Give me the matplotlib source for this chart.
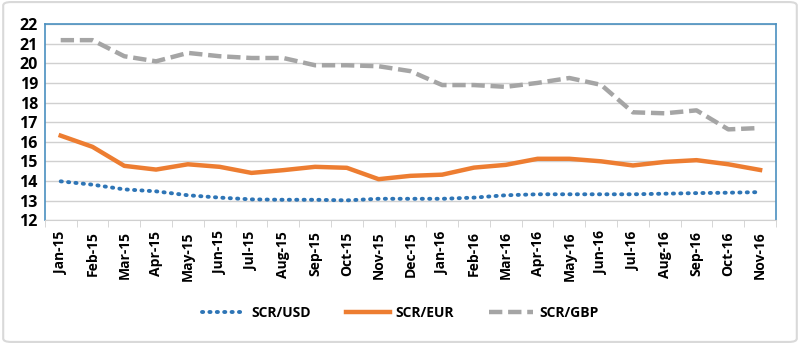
import matplotlib
matplotlib.use("Agg")
import matplotlib.pyplot as plt
from matplotlib.patches import FancyBboxPatch

months = ["Jan-15", "Feb-15", "Mar-15", "Apr-15", "May-15", "Jun-15", "Jul-15",
          "Aug-15", "Sep-15", "Oct-15", "Nov-15", "Dec-15", "Jan-16", "Feb-16",
          "Mar-16", "Apr-16", "May-16", "Jun-16", "Jul-16", "Aug-16", "Sep-16",
          "Oct-16", "Nov-16"]

scr_usd = [13.98, 13.81, 13.57, 13.47, 13.27, 13.15, 13.06, 13.04, 13.04, 13.01,
           13.09, 13.09, 13.09, 13.15, 13.27, 13.32, 13.32, 13.32, 13.32, 13.35,
           13.38, 13.40, 13.43]
scr_eur = [16.31, 15.74, 14.77, 14.58, 14.85, 14.72, 14.41, 14.55, 14.72, 14.67,
           14.09, 14.26, 14.32, 14.68, 14.82, 15.13, 15.13, 15.00, 14.79, 14.97,
           15.06, 14.85, 14.56]
scr_gbp = [21.18, 21.18, 20.36, 20.10, 20.53, 20.36, 20.27, 20.27, 19.90, 19.90,
           19.85, 19.60, 18.89, 18.89, 18.80, 19.00, 19.25, 18.90, 17.50, 17.45,
           17.60, 16.63, 16.70]

plt.rcParams["font.family"] = ["Open Sans", "DejaVu Sans"]

fig = plt.figure(figsize=(8, 3.44), dpi=100)
# light rounded outer border
fig.patches.append(FancyBboxPatch((0.004, 0.006), 0.992, 0.988,
                                  boxstyle="round,pad=0,rounding_size=0.01",
                                  transform=fig.transFigure, fill=False,
                                  edgecolor="#d9d9d9", linewidth=1.5))

ax = fig.add_axes([0.056, 0.36, 0.914, 0.57])
x = range(len(months))

ax.plot(x, scr_usd, color="#2E75B6", linewidth=2.8, linestyle=(0, (0.3, 1.6)),
        dash_capstyle="round", label="SCR/USD")
ax.plot(x, scr_eur, color="#ED7D31", linewidth=3.2, label="SCR/EUR")
ax.plot(x, scr_gbp, color="#A5A5A5", linewidth=3.2, linestyle=(0, (3, 1.3)),
        label="SCR/GBP")

ax.set_xlim(-0.5, len(months) - 0.5)
ax.set_ylim(12, 22)
ax.set_yticks(range(12, 23))
ax.set_xticks(list(x))
ax.set_xticklabels(months, rotation=90, fontsize=10, fontweight="bold")
ax.set_xticks([i + 0.5 for i in range(-1, len(months))], minor=True)
ax.tick_params(axis="x", which="major", length=0, pad=8)
ax.tick_params(axis="x", which="minor", length=5, color="#d0d0d0")
ax.tick_params(axis="y", length=0, labelsize=11.5, pad=5)
for lab in ax.get_yticklabels():
    lab.set_fontweight("bold")

ax.grid(True, axis="y", color="#d0d0d0", linewidth=1)
ax.set_axisbelow(True)
for side in ["left", "top", "right"]:
    ax.spines[side].set_color("#4A90C0")
    ax.spines[side].set_linewidth(1.2)
ax.spines["bottom"].set_color("#d0d0d0")

fig.legend(loc="center", bbox_to_anchor=(0.5, 0.09), ncol=3, frameon=False,
           prop={"weight": "bold", "size": 10},
           handlelength=3.2, columnspacing=2.5, handletextpad=0.4)

fig.savefig("out.png", dpi=100)
